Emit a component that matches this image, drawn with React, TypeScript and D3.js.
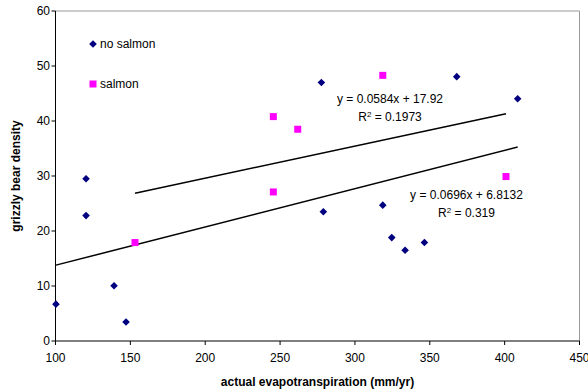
import React from "react";
import * as d3 from "d3";

const noSalmonX = [100.3, 120.4, 120.4, 139.1, 147.1, 277.6, 368, 408.7, 278.9, 318.6, 324.6, 333.5, 346.4];
const noSalmonY = [6.7, 22.8, 29.5, 10.05, 3.45, 47.0, 48.06, 44.05, 23.5, 24.7, 18.8, 16.5, 17.9];
const salmonX = [153.1, 245.5, 245.5, 261.8, 318.6, 400.9];
const salmonY = [17.9, 27.1, 40.8, 38.5, 48.3, 29.9];
const xTicks = [100, 150, 200, 250, 300, 350, 400, 450];
const yTicks = [0, 10, 20, 30, 40, 50, 60];
const salmonFit = { slope: 0.0584, intercept: 17.92, eq: "y = 0.0584x + 17.92", r2: "0.1973" };
const noSalmonFit = { slope: 0.0696, intercept: 6.8132, eq: "y = 0.0696x + 6.8132", r2: "0.319" };

const W = 588, H = 392;
const L = 55.5, R = 579.5, T = 11, B = 341;
const font = "'Liberation Sans', Arial, sans-serif";
const fs = 12;

export default function App() {
  const x = d3.scaleLinear().domain([100, 450]).range([L, R]);
  const y = d3.scaleLinear().domain([0, 60]).range([B, T]);
  const line = d3.line<[number, number]>().x(d => x(d[0])).y(d => y(d[1]));
  const fitPts = (f: typeof salmonFit, xs: number[]): [number, number][] => {
    const lo = d3.min(xs)!, hi = d3.max(xs)!;
    return [[lo, f.slope * lo + f.intercept], [hi, f.slope * hi + f.intercept]];
  };
  const diamond = (cx: number, cy: number, r = 3.8) =>
    `M${cx},${cy - r}L${cx + r},${cy}L${cx},${cy + r}L${cx - r},${cy}Z`;
  const sq = 7;
  return (
    <svg width={W} height={H} style={{ position: "absolute", left: 0, top: 0, background: "#fff" }} fontFamily={font}>
      <rect x={0} y={0} width={W} height={H} fill="#fff" />
      {/* frame */}
      <line x1={L} x2={R} y1={T} y2={T} stroke="#999" strokeWidth={1} />
      <line x1={R} x2={R} y1={T} y2={B} stroke="#999" strokeWidth={1} />
      <line x1={L} x2={L} y1={T} y2={B + 0.5} stroke="#000" strokeWidth={1} />
      <line x1={L - 0.5} x2={R} y1={B} y2={B} stroke="#000" strokeWidth={1} />
      {yTicks.map(t => (
        <g key={"y" + t}>
          <line x1={L - 4} x2={L} y1={y(t)} y2={y(t)} stroke="#000" />
          <text x={L - 5.5} y={y(t)} dy="0.35em" textAnchor="end" fontSize={fs} fill="#000">{t}</text>
        </g>
      ))}
      {xTicks.map(t => (
        <g key={"x" + t}>
          <line x1={x(t)} x2={x(t)} y1={B} y2={B + 4} stroke="#000" />
          <text x={x(t)} y={B + 17} dy="0.35em" textAnchor="middle" fontSize={fs} fill="#000">{t}</text>
        </g>
      ))}
      <text x={317.5} y={381.5} dy="0.35em" textAnchor="middle" fontSize={fs} fontWeight="bold">actual evapotranspiration (mm/yr)</text>
      <text transform={`translate(16,176) rotate(-90)`} dy="0.35em" textAnchor="middle" fontSize={fs} fontWeight="bold">grizzly bear density</text>
      {/* trendlines */}
      <path d={line(fitPts(salmonFit, salmonX))!} stroke="#000" strokeWidth={1.5} fill="none" />
      <path d={line(fitPts(noSalmonFit, noSalmonX))!} stroke="#000" strokeWidth={1.5} fill="none" />
      {/* points */}
      {noSalmonX.map((v, i) => (
        <path key={"n" + i} d={diamond(x(v), y(noSalmonY[i]))} fill="#000080" />
      ))}
      {salmonX.map((v, i) => (
        <rect key={"s" + i} x={x(v) - sq / 2} y={y(salmonY[i]) - sq / 2} width={sq} height={sq} fill="#ff00ff" />
      ))}
      {/* equations */}
      <text x={390} y={99} dy="0.35em" textAnchor="middle" fontSize={fs}>{salmonFit.eq}</text>
      <text x={390} y={117} dy="0.35em" textAnchor="middle" fontSize={fs}>R<tspan dy="-4" fontSize={8}>2</tspan><tspan dy="4"> = {salmonFit.r2}</tspan></text>
      <text x={466.5} y={195} dy="0.35em" textAnchor="middle" fontSize={fs}>{noSalmonFit.eq}</text>
      <text x={466.5} y={213} dy="0.35em" textAnchor="middle" fontSize={fs}>R<tspan dy="-4" fontSize={8}>2</tspan><tspan dy="4"> = {noSalmonFit.r2}</tspan></text>
      {/* legend */}
      <path d={diamond(93, 44)} fill="#000080" />
      <text x={100} y={44} dy="0.35em" fontSize={fs}>no salmon</text>
      <rect x={93 - sq / 2} y={84 - sq / 2} width={sq} height={sq} fill="#ff00ff" />
      <text x={100} y={84} dy="0.35em" fontSize={fs}>salmon</text>
    </svg>
  );
}
